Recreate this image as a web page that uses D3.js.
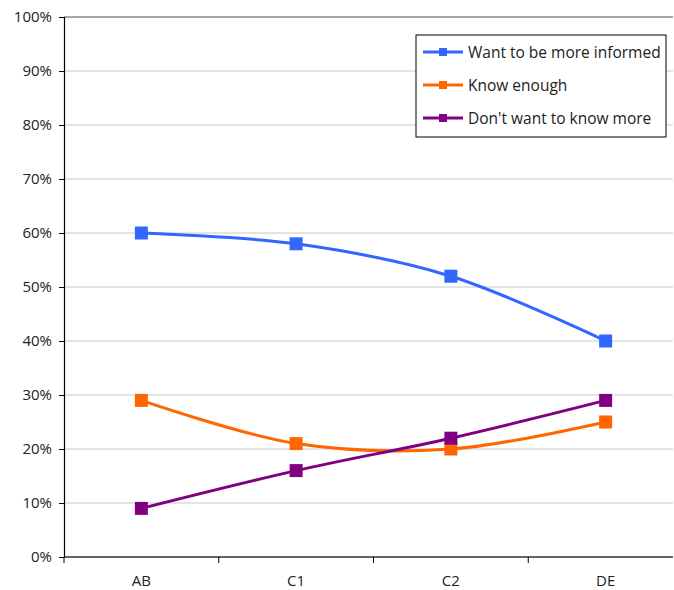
<!DOCTYPE html>
<html>
<head>
<meta charset="utf-8">
<script src="https://cdn.jsdelivr.net/npm/d3@7"></script>
<style>
  html, body { margin: 0; padding: 0; background: #fff; }
  svg { display: block; }
  text { font-family: "Open Sans", "DejaVu Sans", sans-serif; fill: #222; }
</style>
</head>
<body>
<svg id="chart" width="674" height="590"></svg>
<script>
// Social grade categories along the x axis
const categories = ["AB", "C1", "C2", "DE"];

// Share of respondents (%) per category
const seriesNames = ["Want to be more informed", "Know enough", "Don't want to know more"];
const wantMore   = [60, 58, 52, 40];
const knowEnough = [29, 21, 20, 25];
const dontWant   = [9, 16, 22, 29];
const seriesColors = ["#3366FF", "#FF6600", "#800080"];

const yTicks = [0, 10, 20, 30, 40, 50, 60, 70, 80, 90, 100];

const svg = d3.select("#chart");
const margin = { left: 64, top: 17, bottom: 557, right: 683 };

const x = d3.scaleBand().domain(categories).range([margin.left, margin.right]);
const y = d3.scaleLinear().domain([0, 100]).range([margin.bottom, margin.top]);

// Horizontal gridlines
svg.append("g").selectAll("line")
  .data(yTicks.filter(d => d > 0))
  .join("line")
  .attr("x1", margin.left).attr("x2", 673)
  .attr("y1", d => y(d)).attr("y2", d => y(d))
  .attr("stroke", d => d === 100 ? "#8a8a8a" : "#c8c8c8")
  .attr("stroke-width", d => d === 100 ? 1.5 : 1);

// Y axis
const yAxis = svg.append("g")
  .attr("transform", `translate(${margin.left},0)`)
  .call(d3.axisLeft(y).tickValues(yTicks).tickFormat(d => d + "%").tickSize(5).tickPadding(7));
yAxis.select(".domain").attr("stroke", "#000").attr("stroke-width", 1.2);
yAxis.selectAll(".tick line").attr("stroke", "#000");
yAxis.selectAll("text").style("font-size", "15px").attr("fill", "#222");

// X axis with ticks between categories
const xAxis = svg.append("g").attr("transform", `translate(0,${margin.bottom})`);
xAxis.append("line")
  .attr("x1", margin.left).attr("x2", 673)
  .attr("stroke", "#333").attr("stroke-width", 1.5);
xAxis.selectAll("line.tk")
  .data(categories)
  .join("line").attr("class", "tk")
  .attr("x1", d => x(d)).attr("x2", d => x(d))
  .attr("y1", 0).attr("y2", 6)
  .attr("stroke", "#000");
xAxis.selectAll("text")
  .data(categories)
  .join("text")
  .attr("x", d => x(d) + x.bandwidth() / 2)
  .attr("y", 29)
  .attr("text-anchor", "middle")
  .style("font-size", "15px")
  .text(d => d);

// Series lines and markers
const series = [wantMore, knowEnough, dontWant];
const line = d3.line()
  .x((d, i) => x(categories[i]) + x.bandwidth() / 2)
  .y(d => y(d))
  .curve(d3.curveCatmullRom.alpha(0.5));

const size = 13;
series.forEach((vals, si) => {
  const g = svg.append("g");
  g.append("path")
    .attr("d", line(vals))
    .attr("fill", "none")
    .attr("stroke", seriesColors[si])
    .attr("stroke-width", 3);
  g.selectAll("rect")
    .data(vals)
    .join("rect")
    .attr("x", (d, i) => x(categories[i]) + x.bandwidth() / 2 - size / 2)
    .attr("y", d => y(d) - size / 2)
    .attr("width", size).attr("height", size)
    .attr("fill", seriesColors[si]);
});

// Legend
const legend = svg.append("g").attr("transform", "translate(416,35)");
legend.append("rect")
  .attr("width", 250).attr("height", 102)
  .attr("fill", "#fff").attr("stroke", "#000").attr("stroke-width", 1);
seriesNames.forEach((name, i) => {
  const cy = 17 + i * 33;
  legend.append("line")
    .attr("x1", 7).attr("x2", 47).attr("y1", cy).attr("y2", cy)
    .attr("stroke", seriesColors[i]).attr("stroke-width", 3);
  legend.append("rect")
    .attr("x", 27 - 4).attr("y", cy - 4).attr("width", 8).attr("height", 8)
    .attr("fill", seriesColors[i]);
  legend.append("text")
    .attr("x", 52).attr("y", cy + 5.5)
    .style("font-size", "15.5px")
    .text(name);
});
</script>
</body>
</html>
